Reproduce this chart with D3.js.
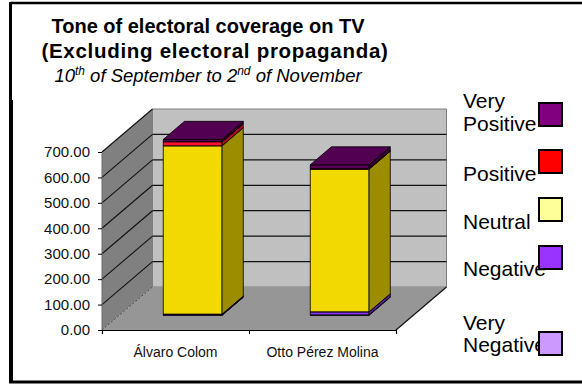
<!DOCTYPE html>
<html><head><meta charset="utf-8">
<script src="https://cdn.jsdelivr.net/npm/d3@7"></script>
<style>
html,body{margin:0;padding:0;background:#fff;}
svg{display:block;font-family:"Liberation Sans",Arial,sans-serif;}
</style></head><body>
<svg id="chart" width="582" height="388"></svg>
<script>
// Coverage counts per candidate, one array per tone (stacked bottom to top)
const categories = ["Álvaro Colom", "Otto Pérez Molina"];
const seriesNames = ["Very Negative", "Negative", "Neutral", "Positive", "Very Positive"];
const veryNegative = [1, 2];
const negative = [4, 12];
const neutral = [662, 561];
const positive = [16, 2];
const veryPositive = [9, 15];
const yTicks = [0, 100, 200, 300, 400, 500, 600, 700];
const legendOrder = ["Very Positive", "Positive", "Neutral", "Negative", "Very Negative"];

const valuesBySeries = {
  "Very Negative": veryNegative,
  "Negative": negative,
  "Neutral": neutral,
  "Positive": positive,
  "Very Positive": veryPositive
};

// Legend swatch colours and the shaded front colours of the 3-D columns
const swatch = {
  "Very Positive": "#800080", "Positive": "#ff0000", "Neutral": "#ffff99",
  "Negative": "#9933ff", "Very Negative": "#cc99ff"
};
const face = {
  "Very Positive": "#560056", "Positive": "#ff1030", "Neutral": "#f2da00",
  "Negative": "#8a33f5", "Very Negative": "#b98cf0"
};

const svg = d3.select("#chart");
const rows = categories.map((c, i) => {
  const r = { category: c };
  seriesNames.forEach(s => r[s] = valuesBySeries[s][i]);
  return r;
});
const stacked = d3.stack().keys(seriesNames)(rows);

// 3-D box geometry: front plane and depth offset
const left = 102, right = 396;
const DX = 50.5, DY = -43;
const y = d3.scaleLinear().domain([0, 700]).range([330, 152]);
const x = d3.scaleBand().domain(categories).range([left, right]).paddingInner(0.6).paddingOuter(0.3);
const bw = x.bandwidth();
const f0 = 0.34, f1 = 0.76;
const pt = (px, py, f) => [px + DX * f, py + DY * f];
const poly = pts => pts.map(p => p.join(",")).join(" ");

// Frame
const frame = svg.append("g").attr("stroke", "#000").attr("fill", "none");
frame.append("line").attr("x1", 10).attr("x2", 582).attr("y1", 3).attr("y2", 3).attr("stroke-width", 2.5);
frame.append("line").attr("x1", 10.5).attr("x2", 10.5).attr("y1", 2).attr("y2", 383).attr("stroke-width", 3);
frame.append("line").attr("x1", 11).attr("x2", 11).attr("y1", 100).attr("y2", 383).attr("stroke-width", 4);
frame.append("line").attr("x1", 9).attr("x2", 582).attr("y1", 382).attr("y2", 382).attr("stroke-width", 3);

// Title
const title = svg.append("text").attr("text-anchor", "middle").attr("fill", "#000");
title.append("tspan").attr("x", 208).attr("y", 33).attr("font-size", 20).attr("font-weight", "bold")
  .text("Tone of electoral coverage on TV");
title.append("tspan").attr("x", 215).attr("y", 58).attr("font-size", 20.5).attr("font-weight", "bold")
  .attr("letter-spacing", 0.7)
  .text("(Excluding electoral propaganda)");
const sub = svg.append("text").attr("text-anchor", "middle").attr("x", 208).attr("y", 82)
  .attr("font-size", 18.5).attr("font-style", "italic").attr("fill", "#000");
sub.append("tspan").text("10");
sub.append("tspan").attr("font-size", 12).attr("dy", -7).text("th");
sub.append("tspan").attr("dy", 7).text(" of September to 2");
sub.append("tspan").attr("font-size", 12).attr("dy", -7).text("nd");
sub.append("tspan").attr("dy", 7).text(" of November");

// Walls and floor
const walls = svg.append("g");
const yTop = y(700), yBot = y(0);
walls.append("polygon")
  .attr("points", poly([pt(left, yBot, 1), pt(right, yBot, 1), pt(right, yTop, 1), pt(left, yTop, 1)]))
  .attr("fill", "#c0c0c0").attr("stroke", "#808080").attr("stroke-width", 1);
walls.append("polygon")
  .attr("points", poly([[left, yBot], [left, yTop], pt(left, yTop, 1), pt(left, yBot, 1)]))
  .attr("fill", "#808080");
walls.append("polygon")
  .attr("points", poly([[left, yBot], [right, yBot], pt(right, yBot, 1), pt(left, yBot, 1)]))
  .attr("fill", "#969696");

// Gridlines on the back wall and the matching diagonals on the side wall
yTicks.filter(v => v > 0 && v < 700).forEach(v => {
  const a = pt(left, y(v), 1), b = pt(right, y(v), 1);
  walls.append("line").attr("x1", a[0]).attr("y1", a[1]).attr("x2", b[0]).attr("y2", b[1])
    .attr("stroke", "#111").attr("stroke-width", 1.2);
});
yTicks.filter(v => v > 0).forEach(v => {
  const b = pt(left, y(v), 1);
  walls.append("line").attr("x1", left).attr("y1", y(v)).attr("x2", b[0]).attr("y2", b[1])
    .attr("stroke", "#111").attr("stroke-width", 1.1);
});
{
  const b = pt(left, yBot, 1);
  walls.append("line").attr("x1", left).attr("y1", yBot).attr("x2", b[0]).attr("y2", b[1])
    .attr("stroke", "#444").attr("stroke-width", 1).attr("stroke-dasharray", "2,2");
  const c = pt(right, yBot, 1);
  walls.append("line").attr("x1", right).attr("y1", yBot).attr("x2", c[0]).attr("y2", c[1])
    .attr("stroke", "#111").attr("stroke-width", 1.2);
  walls.append("line").attr("x1", left).attr("y1", yTop).attr("x2", left).attr("y2", yBot)
    .attr("stroke", "#6a6a6a").attr("stroke-width", 1);
}

// Stacked 3-D columns, drawn bottom segment first
const bars = svg.append("g").attr("stroke", "#000").attr("stroke-width", 0.8).attr("stroke-linejoin", "round");
categories.forEach((cat, i) => {
  const xl = x(cat), xr = xl + bw;
  stacked.forEach(layer => {
    const d = layer[i];
    const c = d3.color(face[layer.key]);
    const ya = y(d[0]), yb = y(d[1]);
    bars.append("polygon")
      .attr("points", poly([pt(xl, ya, f0), pt(xr, ya, f0), pt(xr, yb, f0), pt(xl, yb, f0)]))
      .attr("fill", c.formatHex());
    bars.append("polygon")
      .attr("points", poly([pt(xr, ya, f0), pt(xr, ya, f1), pt(xr, yb, f1), pt(xr, yb, f0)]))
      .attr("fill", c.darker(1.25).formatHex());
    bars.append("polygon")
      .attr("points", poly([pt(xl, yb, f0), pt(xr, yb, f0), pt(xr, yb, f1), pt(xl, yb, f1)]))
      .attr("fill", c.darker(0.15).formatHex());
  });
});

// Value axis on the front edge of the side wall
const yAxis = svg.append("g").attr("transform", `translate(${left},0)`)
  .call(d3.axisLeft(y).tickValues(yTicks).tickFormat(d3.format(".2f")).tickSize(4).tickPadding(8));
yAxis.select(".domain").remove();
yAxis.selectAll("text").attr("font-size", 15).attr("font-family", "'Liberation Sans',Arial,sans-serif").attr("fill", "#111");
yAxis.selectAll("line").attr("stroke", "#000");

// Category axis along the front edge of the floor
const xAxis = svg.append("g").attr("transform", `translate(0,${yBot})`)
  .call(d3.axisBottom(x).tickSize(0));
xAxis.select(".domain").remove();
xAxis.selectAll("text").attr("y", 27).attr("dy", 0).attr("font-size", 14)
  .attr("font-family", "'Liberation Sans',Arial,sans-serif").attr("fill", "#111");
const edge = d3.scaleLinear().domain([0, categories.length]).range([left, right]);
svg.append("g").attr("transform", `translate(0,${yBot})`)
  .call(d3.axisBottom(edge).tickValues(d3.range(categories.length + 1)).tickFormat("").tickSize(4))
  .call(g => g.select(".domain").attr("stroke", "#000").attr("stroke-width", 1.2))
  .call(g => g.selectAll("line").attr("stroke", "#000"));

// Legend
const legendLayout = {
  "Very Positive": { lines: [108, 131], box: 103 },
  "Positive": { lines: [181], box: 150 },
  "Neutral": { lines: [229], box: 198 },
  "Negative": { lines: [276], box: 246 },
  "Very Negative": { lines: [330, 352], box: 332 }
};
const legend = svg.append("g");
legendOrder.forEach(name => {
  const L = legendLayout[name];
  const words = name.split(" ");
  const lines = words.length === L.lines.length ? words : [name];
  lines.forEach((w, k) => {
    legend.append("text").attr("x", 463).attr("y", L.lines[k]).attr("font-size", 21)
      .attr("fill", "#000").text(w);
  });
  legend.append("rect").attr("x", 539).attr("y", L.box).attr("width", 23).attr("height", 23)
    .attr("fill", swatch[name]).attr("stroke", "#000").attr("stroke-width", 2);
});
</script>
</body></html>
